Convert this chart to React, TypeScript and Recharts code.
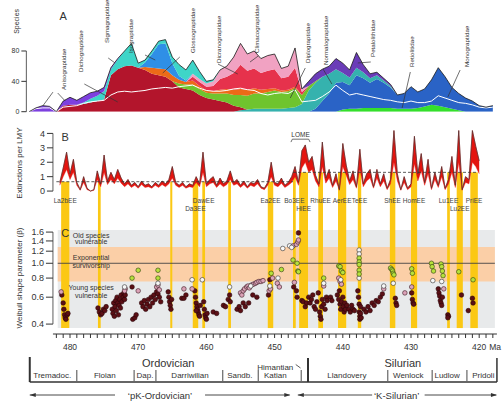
import React from 'react';
import {
  ComposedChart,
  Area,
  Line,
  Scatter,
  XAxis,
  YAxis,
  ReferenceArea,
  ReferenceLine,
  ReferenceDot,
} from 'recharts';

const FONT = 'Arial, "Liberation Sans", Helvetica, sans-serif';
const INK = '#333';
const YELLOW = '#fbc814';
const W = 504;

// ---------- A: standing species per family (one value per Myr) ----------
const speciesFirstMa = 486;
const speciesLastMa = 418;

const anisograptidae = [0, 5, 8, 7, 0, 6, 10, 6, 8, 8, 6, 5, 2, 1, 0];
const dichograptidae = [8, 9, 9, 10, 12, 14, 16, 48, 56, 60, 61, 58, 55, 50, 48, 46, 40, 32, 30, 28, 22, 18, 16, 14, 12, 8, 4, 0];
const sigmagraptidae = [2, 5, 7, 11, 8, 13, 20, 29, 6, 3, 4, 4, 5, 8, 15, 14, 18, 10, 3, 2, 0];
const isograptidae = [6, 18, 32, 34, 16, 5, 2, 0];
const glossograptidae = [4, 8, 9, 10, 8, 5, 3, 5, 4, 3, 3, 5, 6, 7, 8, 8, 7, 5, 4, 3, 2, 2, 2, 0];
const diplograptidae = [5, 6, 8, 8, 7, 8, 10, 12, 14, 16, 18, 20, 20, 22, 24, 22, 22, 25, 12, 6, 2, 0];
const dicranograptidae = [5, 5, 5, 7, 14, 16, 22, 32, 25, 26, 22, 24, 25, 16, 17, 25, 4, 0];
const climacograptidae = [4, 4, 4, 6, 12, 14, 21, 28, 22, 23, 19, 20, 20, 13, 14, 26, 4, 0];
const normalograptidae = [2, 3, 4, 4, 4, 4, 4, 5, 6, 10, 28, 34, 32, 26, 18, 12, 10, 10, 8, 6, 5, 3, 2, 0];
const petalolithidae = [6, 10, 10, 10, 14, 13, 10, 20, 10, 6, 4, 3, 2, 0];
const monograptidae = [4, 14, 24, 38, 36, 31, 44, 39, 33, 38, 33, 27, 18, 20, 29, 21, 23, 33, 50, 40, 28, 22, 18, 14, 8, 6, 8];
const retiolitidae = [3, 4, 4, 5, 5, 5, 5, 5, 4, 4, 4, 5, 7, 9, 8, 6, 4, 2, 0];

// white line, from 486 Ma
const meanLine = [0, 4, 5, 5, 0, 6, 7, 8, 11, 13, 14, 15, 22, 26, 27, 26, 27, 28, 30, 31, 32, 31, 33, 34, 35, 31, 28, 27, 27, 28, 30, 31, 29, 28, 24, 22, 24, 25, 24, 29, 13, 14, 15, 20, 26, 35, 28, 22, 24, 22, 20, 18, 16, 15, 13, 12, 14, 12, 12, 14, 21, 18, 15, 12, 11, 9, 6, 5, 6];

// stack order, bottom to top
const familyLayers = [
  { key: 'retiolitidae', start: 440, values: retiolitidae, color: '#34df2c' },
  { key: 'monograptidae', start: 444, values: monograptidae, color: '#2a63c6' },
  { key: 'normalograptidae', start: 455, values: normalograptidae, color: '#35b2ae' },
  { key: 'dichograptidae', start: 481, values: dichograptidae, color: '#b3152c' },
  { key: 'diplograptidae', start: 464, values: diplograptidae, color: '#6fc42e' },
  { key: 'glossograptidae', start: 469, values: glossograptidae, color: '#ec6a18' },
  { key: 'dicranograptidae', start: 462, values: dicranograptidae, color: '#e6324c' },
  { key: 'climacograptidae', start: 462, values: climacograptidae, color: '#f1a2c2' },
  { key: 'isograptidae', start: 469, values: isograptidae, color: '#2f8fe6' },
  { key: 'sigmagraptidae', start: 478, values: sigmagraptidae, color: '#3ed5c8' },
  { key: 'petalolithidae', start: 445, values: petalolithidae, color: '#6a3cb8' },
  { key: 'anisograptidae', start: 486, values: anisograptidae, color: '#7d40df' },
];

const speciesRows: Record<string, number>[] = [];
for (let ma = speciesFirstMa; ma >= speciesLastMa; ma--) {
  const row: Record<string, number> = { ma, mean: meanLine[speciesFirstMa - ma] };
  let total = 0;
  familyLayers.forEach((f) => {
    const i = f.start - ma;
    const v = i >= 0 && i < f.values.length ? f.values[i] : 0;
    row[f.key] = v;
    total += v;
  });
  row.total = total;
  speciesRows.push(row);
}

// ---------- B: extinctions per lineage-million-years (every 0.5 Myr) ----------
const rateFirstMa = 481.5;
const rateStep = 0.5;
const rate = [
  0.6, 1.6, 2.7, 1.2, 2.2, 0.6, 0.1, 1.0, 0.2, 0.0,
  0.1, 1.4, 0.5, 2.5, 0.7, 1.3, 0.8, 1.5, 0.9, 0.5,
  0.8, 0.4, 0.6, 0.3, 0.7, 0.4, 0.5, 0.3, 0.6, 0.4,
  0.7, 0.5, 0.8, 1.7, 0.6, 0.4, 0.6, 0.3, 0.5, 0.4,
  1.0, 0.5, 2.7, 0.5, 0.8, 1.0, 0.4, 0.9, 0.5, 0.7,
  1.4, 0.6, 0.8, 0.4, 0.7, 0.3, 0.6, 0.5, 0.8, 0.3,
  0.2, 0.6, 2.0, 0.6, 0.5, 0.9, 0.4, 0.6, 1.0, 1.7,
  0.6, 2.8, 3.2, 2.0, 2.4, 1.1, 0.5, 3.4, 0.9, 1.5,
  0.4, 1.2, 0.1, 3.3, 1.8, 0.7, 1.4, 0.3, 2.9, 0.5,
  1.2, 1.5, 0.3, 1.5, 0.5, 1.2, 0.2, 0.8, 4.2, 1.2,
  0.1, 1.0, 0.2, 0.5, 3.8, 1.2, 2.6, 0.6, 2.2, 0.2,
  1.3, 0.4, 1.7, 0.2, 0.8, 2.4, 0.4, 4.2, 0.1, 1.0,
  0.8, 4.2, 3.1, 2.1,
];
const rateLow = [
  0.4, 1.0, 1.5, 0.8, 1.3, 0.4, 0.05, 0.6, 0.1, 0.0,
  0.05, 0.8, 0.3, 1.3, 0.45, 0.8, 0.5, 0.9, 0.55, 0.3,
  0.5, 0.25, 0.4, 0.2, 0.45, 0.25, 0.3, 0.2, 0.4, 0.25,
  0.45, 0.3, 0.5, 0.9, 0.4, 0.25, 0.4, 0.2, 0.3, 0.25,
  0.6, 0.3, 1.3, 0.3, 0.5, 0.6, 0.25, 0.5, 0.3, 0.45,
  0.8, 0.4, 0.5, 0.25, 0.45, 0.2, 0.4, 0.3, 0.5, 0.2,
  0.1, 0.4, 1.0, 0.4, 0.3, 0.55, 0.25, 0.4, 0.6, 1.0,
  0.4, 1.6, 2.0, 1.3, 1.5, 0.7, 0.3, 1.7, 0.55, 0.9,
  0.25, 0.7, 0.05, 1.7, 1.1, 0.45, 0.8, 0.2, 1.5, 0.3,
  0.7, 0.9, 0.2, 0.9, 0.3, 0.7, 0.1, 0.5, 2.0, 0.7,
  0.05, 0.6, 0.1, 0.3, 1.9, 0.7, 1.4, 0.4, 1.2, 0.1,
  0.8, 0.25, 1.0, 0.1, 0.5, 1.3, 0.25, 2.0, 0.05, 0.6,
  0.5, 2.0, 1.7, 1.2,
];
const rateRows = rate.map((r, i) => ({ ma: rateFirstMa - i * rateStep, rate: r, low: rateLow[i] }));

const backgroundRate = [
  { from: 482, to: 447.3, value: 0.65 },
  { from: 447.3, to: 420.2, value: 1.3 },
];

// extinction events (yellow bars)
const eventNames = ['La2bEE', '', '', 'Da3EE', 'DawEE', '', 'Ea2EE', 'Bo3EE', 'HiEE', 'RhuEE', 'AerEE', 'TeEE', 'ShEE', 'HomEE', 'Lu1EE', 'Lu2EE', 'PriEE'];
const eventStart = [481.3, 475.9, 465.3, 462.0, 460.6, 456.8, 451.0, 447.3, 446.4, 443.6, 440.7, 437.8, 433.1, 430.0, 424.7, 423.3, 421.3];
const eventEnd = [480.1, 475.5, 465.0, 461.2, 460.2, 456.4, 450.2, 446.9, 445.1, 442.9, 439.5, 437.3, 432.3, 429.1, 424.3, 422.4, 420.2];
const eventSecondRow = ['Da3EE', 'HiEE', 'Lu2EE'];

// ---------- C: Weibull shape parameter ----------
type Pt = [number, number];
const darkBeta: Pt[] = [
  [481.2, 0.62], [481.0, 0.55], [480.9, 0.5], [480.8, 0.46], [480.7, 0.44], [480.6, 0.43], [480.4, 0.46], [480.3, 0.47],
  [475.9, 0.51], [475.7, 0.48], [475.5, 0.46], [475.3, 0.47], [475.1, 0.5], [474.9, 0.49], [474.7, 0.52],
  [473.8, 0.5], [473.7, 0.47], [473.6, 0.55], [473.5, 0.45], [473.4, 0.52], [473.3, 0.57], [473.2, 0.49], [473.1, 0.6], [473.0, 0.55], [472.9, 0.46], [472.8, 0.53], [472.7, 0.58], [472.6, 0.51], [472.5, 0.62], [472.4, 0.56], [472.2, 0.6], [472.1, 0.64], [472.0, 0.58], [471.9, 0.62],
  [470.9, 0.7], [470.8, 0.43], [470.5, 0.44], [470.3, 0.46],
  [469.5, 0.55], [469.3, 0.52], [469.1, 0.57], [468.9, 0.5], [468.7, 0.54], [468.5, 0.58], [468.3, 0.52], [468.1, 0.6], [467.9, 0.55], [467.7, 0.62], [467.5, 0.58], [467.3, 0.65], [467.1, 0.63], [466.9, 0.6], [466.7, 0.56],
  [465.6, 0.65], [465.5, 0.6], [465.4, 0.56], [465.3, 0.53], [465.2, 0.5], [465.1, 0.58],
  [463.6, 0.59], [463.3, 0.59], [463.0, 0.62],
  [461.7, 0.66], [461.6, 0.6], [461.5, 0.55], [461.4, 0.52], [461.3, 0.5], [461.2, 0.48], [461.1, 0.46], [461.0, 0.45], [460.9, 0.53], [461.5, 0.49],
  [460.4, 0.56], [460.3, 0.5], [460.2, 0.46], [460.1, 0.44], [460.0, 0.43], [459.9, 0.47],
  [459.0, 0.48], [458.5, 0.47],
  [457.5, 0.53], [457.2, 0.52], [456.8, 0.58], [456.6, 0.62], [456.5, 0.56],
  [455.5, 0.5], [455.2, 0.52], [455.0, 0.49], [454.6, 0.55], [454.3, 0.52], [453.8, 0.55], [453.2, 0.62], [452.6, 0.6],
  [450.9, 0.62], [450.7, 0.78],
  [447.2, 0.7], [446.8, 0.66], [446.7, 0.6], [446.5, 1.58],
  [446.0, 0.57], [445.8, 0.56], [445.5, 0.52], [445.3, 0.55],
  [445.0, 0.6], [444.8, 0.55], [444.6, 0.58], [444.4, 0.62], [444.2, 0.52], [444.0, 0.5], [443.8, 0.56], [443.6, 0.64], [443.4, 0.48], [443.3, 0.45], [443.2, 0.43], [443.1, 0.52], [443.0, 0.58], [442.8, 0.54], [442.6, 0.5], [442.4, 0.6], [442.3, 0.57],
  [441.8, 0.6], [441.6, 0.57],
  [440.8, 0.62], [440.6, 0.58], [440.5, 0.66], [440.4, 0.54], [440.3, 0.5], [440.2, 0.56], [440.0, 0.6], [439.9, 0.52], [439.8, 0.48], [439.7, 0.55], [439.6, 0.5], [439.4, 0.53],
  [439.1, 0.5], [438.9, 0.48], [438.7, 0.53], [438.5, 0.5], [438.3, 0.49],
  [437.8, 0.66], [437.7, 0.6], [437.6, 0.54], [437.6, 0.48], [437.5, 0.45], [437.5, 0.43], [437.4, 0.47], [437.4, 0.52], [437.3, 0.44],
  [436.9, 0.5], [436.6, 0.48], [436.3, 0.52], [436.0, 0.49], [435.7, 0.55], [435.4, 0.53], [435.1, 0.57], [434.8, 0.56], [434.5, 0.6], [434.2, 0.63],
  [432.3, 0.59], [432.2, 0.55], [432.1, 0.53],
  [429.9, 0.64], [429.8, 0.58], [429.7, 0.55], [429.6, 0.54],
  [426.0, 0.68], [425.9, 0.64], [425.8, 0.61], [425.7, 0.57], [425.6, 0.55], [425.5, 0.53], [425.4, 0.6],
  [424.6, 0.46], [424.5, 0.45], [424.6, 0.44],
  [422.6, 0.62], [421.6, 0.49], [421.0, 0.59], [420.9, 0.55],
];
const pinkBeta: Pt[] = [
  [481.3, 0.65], [471.9, 0.68], [472.0, 0.66], [470.0, 0.66], [467.3, 0.7], [467.1, 0.72], [466.9, 0.67], [463.3, 0.68], [462.1, 0.68],
  [455.0, 0.64], [454.8, 0.62], [454.6, 0.66], [454.4, 0.68], [454.1, 0.7], [453.9, 0.71], [453.7, 0.69], [453.4, 0.72], [453.1, 0.73],
  [452.8, 0.74], [452.6, 0.75], [452.3, 0.76], [452.0, 0.76], [451.7, 0.77], [450.8, 0.66], [450.6, 0.68], [450.3, 0.8], [449.6, 0.74],
  [449.3, 0.7], [447.3, 1.3], [447.1, 0.75], [446.8, 1.33], [446.6, 1.38], [446.5, 1.42], [442.8, 0.71], [440.6, 0.8], [440.4, 0.76],
  [440.2, 0.73], [434.0, 0.68], [430.9, 0.64], [429.9, 0.7], [425.2, 0.68],
];
const whiteBeta: Pt[] = [
  [472.0, 0.7], [467.1, 0.74], [462.1, 0.78], [460.6, 0.78], [456.6, 0.7], [453.5, 0.71], [450.7, 0.71], [449.5, 0.8], [448.8, 1.25],
  [447.8, 1.3], [447.5, 1.27], [442.8, 0.74], [440.3, 0.78], [437.6, 1.22], [437.6, 1.15], [437.6, 0.8], [434.0, 0.71], [432.6, 0.74],
  [426.8, 0.77], [425.5, 0.76],
];
const greenBeta: Pt[] = [
  [470.9, 0.8], [470.0, 0.9], [467.1, 0.9], [467.1, 0.8], [450.5, 0.86], [449.0, 0.91], [447.3, 1.05], [446.7, 1.0], [446.6, 0.89],
  [446.5, 0.88], [442.8, 0.8], [440.6, 0.96], [440.4, 0.95], [440.2, 0.89], [440.0, 0.87], [437.6, 1.08], [437.6, 1.02], [437.6, 0.98],
  [437.6, 0.9], [437.6, 0.85], [433.0, 0.93], [432.8, 0.91], [432.7, 0.89], [432.6, 0.86], [432.5, 0.84], [429.9, 0.92], [429.8, 0.86],
  [427.0, 1.0], [426.9, 0.95], [426.7, 0.89], [425.6, 0.99], [425.5, 0.95], [425.4, 0.89], [425.3, 0.83], [423.0, 0.88], [420.9, 0.78],
];
const betaTicks = [0.4, 0.6, 0.8, 1.0, 1.2, 1.4, 1.6];

// ---------- time axis and time scale ----------
const maTicks: number[] = [];
for (let m = 482; m >= 418; m--) maTicks.push(m);
const labelledMa = [480, 470, 460, 450, 440, 430, 420];

const periodNames = ['Ordovician', 'Silurian'];
const periodMid = [465.6, 431.2];
const periodBounds = [485.9, 445.1, 417.4];
const stageNames = ['Tremadoc.', 'Floian', 'Dap.', 'Darriwilian', 'Sandb.', 'Katian', 'Llandovery', 'Wenlock', 'Ludlow', 'Pridoli'];
const stageMid = [482.6, 474.9, 469.0, 462.4, 455.1, 449.9, 439.4, 430.4, 424.7, 419.4];
const stageBounds = [479.0, 470.6, 467.4, 457.6, 452.4, 446.1, 433.4, 426.9, 421.8];

// ---------- layout helpers ----------
const maToPx = (ma: number) => 70 + (480 - ma) * 6.82;
const A_DOMAIN: [number, number] = [417, 486.4];
const BC_DOMAIN: [number, number] = [417.4, 482.5];

type NoteOpts = { anchor?: 'start' | 'middle' | 'end'; rotate?: boolean; color?: string };
const note = (key: string, x: number, y: number, text: string, size: number, o: NoteOpts = {}) => (
  <ReferenceDot
    key={key}
    x={x}
    y={y}
    r={0}
    ifOverflow="visible"
    shape={(p: any) => (
      <text
        x={p.cx}
        y={p.cy}
        fontSize={size}
        fontFamily={FONT}
        fill={o.color ?? INK}
        textAnchor={o.anchor ?? 'middle'}
        dominantBaseline="central"
        transform={o.rotate ? `rotate(-90 ${p.cx} ${p.cy})` : undefined}
      >
        {text}
      </text>
    )}
  />
);

const arrowHead = (key: string, x: number, y: number, dir: 1 | -1) => (
  <ReferenceDot
    key={key}
    x={x}
    y={y}
    r={0}
    ifOverflow="visible"
    shape={(p: any) => (
      <polygon
        points={`${p.cx},${p.cy} ${p.cx - dir * 6},${p.cy - 2} ${p.cx - dir * 6},${p.cy + 2}`}
        fill={INK}
      />
    )}
  />
);

const seg = (key: string, x1: number, y1: number, x2: number, y2: number, width = 0.8, dash?: string) => (
  <ReferenceLine
    key={key}
    segment={[{ x: x1, y: y1 }, { x: x2, y: y2 }]}
    stroke={INK}
    strokeWidth={width}
    strokeDasharray={dash}
    ifOverflow="visible"
  />
);

const familyLabels = [
  { name: 'Anisograptidae', ma: 481.0, y: 28.6, leaders: [[482.5, 25.8, 484.0, 7.5], [481.8, 24.6, 480.7, 14.1]] },
  { name: 'Dichograptidae', ma: 478.5, y: 52.3, leaders: [[477.9, 36.5, 473.0, 12.8]] },
  { name: 'Sigmagraptidae', ma: 474.6, y: 90.5, leaders: [[474.4, 70.8, 473.4, 64.2]] },
  { name: 'Isograptidae', ma: 471.2, y: 77.3, leaders: [[469.0, 74.7, 467.5, 68.1]] },
  { name: 'Glossograptidae', ma: 462.0, y: 77.3, leaders: [[463.9, 72.1, 466.4, 51.0]] },
  { name: 'Dicranograptidae', ma: 458.2, y: 64.2, leaders: [[458.3, 62.8, 455.4, 49.7]] },
  { name: 'Climacograptidae', ma: 452.6, y: 77.3, leaders: [[452.4, 73.4, 453.6, 65.5]] },
  { name: 'Diplograptidae', ma: 445.2, y: 64.2, leaders: [[445.5, 57.6, 447.7, 18.1]] },
  { name: 'Normalograptidae', ma: 442.6, y: 61.5, leaders: [[442.9, 56.3, 441.6, 36.5]] },
  { name: 'Petalolithidae', ma: 435.6, y: 72.1, leaders: [[435.9, 65.5, 437.8, 64.2]] },
  { name: 'Retiolitidae', ma: 429.9, y: 58.9, leaders: [[430.1, 52.3, 431.3, 4.9]] },
  { name: 'Monograptidae', ma: 421.8, y: 58.9, leaders: [[422.8, 54.9, 424.6, 19.4]] },
];

const dotShape = (fill: string, stroke: string) => (p: any) => (
  <circle cx={p.cx} cy={p.cy} r={2.3} fill={fill} stroke={stroke} strokeWidth={0.6} />
);

const toPoints = (pts: Pt[]) => pts.map(([ma, beta]) => ({ ma, beta }));

const stageRows = stageMid.map((ma) => ({ ma, row: 375 }));

const MaTick = (props: any) => {
  const { x, y, payload } = props;
  if (!labelledMa.includes(payload.value)) return <g />;
  return (
    <g>
      <text x={x} y={y + 7} fontSize={8.5} fontFamily={FONT} fill={INK} textAnchor="middle" dominantBaseline="central">
        {payload.value}
      </text>
      {payload.value === 420 && (
        <text x={x + 10} y={y + 7} fontSize={8.5} fontFamily={FONT} fill={INK} textAnchor="start" dominantBaseline="central">
          Ma
        </text>
      )}
    </g>
  );
};

const tickStyle = { fontSize: 9, fill: INK, fontFamily: FONT };
const C_TOP = 218; // svg top, plot starts 12 px lower at 230

export default function App() {
  const levelFor = (start: number) =>
    (backgroundRate.find((b) => start <= b.from && start > b.to) ?? backgroundRate[0]).value;

  return (
    <div style={{ position: 'absolute', left: 0, top: 0, width: W, height: 401, background: '#fff', overflow: 'hidden' }}>
      {/* Panel A */}
      <div style={{ position: 'absolute', left: 0, top: 0 }}>
        <ComposedChart width={W} height={116} data={speciesRows} margin={{ top: 0, right: W - maToPx(417), bottom: 116 - 111.7, left: 0 }}>
          <XAxis type="number" dataKey="ma" domain={A_DOMAIN} reversed hide allowDataOverflow />
          <YAxis
            type="number"
            domain={[0, 147.2]}
            ticks={[0, 40, 80]}
            interval={0}
            width={maToPx(486.4)}
            axisLine={false}
            tickSize={5}
            tickLine={{ stroke: INK }}
            tick={{ ...tickStyle, fontSize: 7 }}
            allowDataOverflow
          />
          {familyLayers.map((f) => (
            <Area
              key={f.key}
              type="linear"
              dataKey={f.key}
              stackId="species"
              fill={f.color}
              fillOpacity={1}
              stroke="none"
              isAnimationActive={false}
            />
          ))}
          <Line type="linear" dataKey="mean" stroke="#ffffff" strokeWidth={1} dot={false} isAnimationActive={false} />
          <Line type="linear" dataKey="total" stroke="#1b1b1b" strokeWidth={0.8} dot={false} isAnimationActive={false} />
          {seg('a-axis', 486.4, 0, 486.4, 80, 0.8)}
          {familyLabels.map((f) => note(`fl-${f.name}`, f.ma, f.y, f.name, 6.2, { anchor: 'start', rotate: true }))}
          {familyLabels.flatMap((f) =>
            f.leaders.map((l, i) => seg(`ld-${f.name}-${i}`, l[0], l[1], l[2], l[3], 0.7)),
          )}
          {note('a-letter', 481.0, 126, 'A', 11)}
          {note('a-ylabel', 487.9, 119, 'Species', 7, { rotate: true })}
        </ComposedChart>
      </div>

      {/* Panel B */}
      <div style={{ position: 'absolute', left: 0, top: 119 }}>
        <ComposedChart width={W} height={111} data={rateRows} margin={{ top: 0, right: W - maToPx(417.4), bottom: 0, left: 0 }}>
          <XAxis type="number" dataKey="ma" domain={BC_DOMAIN} reversed hide allowDataOverflow />
          <YAxis
            type="number"
            domain={[-2.7, 5]}
            ticks={[0, 1, 2, 3, 4]}
            interval={0}
            width={maToPx(482.5)}
            axisLine={false}
            tickSize={6}
            tickLine={{ stroke: INK }}
            tick={tickStyle}
            allowDataOverflow
          />
          {eventStart.map((s, i) => (
            <ReferenceArea
              key={`yb-${i}`}
              x1={s}
              x2={eventEnd[i]}
              y1={-2.7}
              y2={levelFor(s)}
              fill={YELLOW}
              fillOpacity={1}
              stroke="none"
              zIndex={-50}
            />
          ))}
          <Area
            type="linear"
            dataKey={(d: any) => [d.low, d.rate]}
            fill="#e3140f"
            fillOpacity={1}
            stroke="#e3140f"
            strokeWidth={0.4}
            isAnimationActive={false}
          />
          <Line type="linear" dataKey="rate" stroke="#4a3030" strokeWidth={0.7} dot={false} isAnimationActive={false} />
          {backgroundRate.map((b, i) => seg(`bg-${i}`, b.from, b.value, b.to, b.value, 0.8, '3 2'))}
          {seg('b-axis', 482.5, 0, 482.5, 4, 0.8)}
          {seg('lome', 447.4, 3.6, 445.0, 3.6, 0.7)}
          {seg('lome-l', 447.4, 3.6, 447.6, 3.4, 0.7)}
          {seg('lome-r', 445.0, 3.6, 444.8, 3.4, 0.7)}
          {note('lome-t', 446.2, 3.95, 'LOME', 6.5)}
          {note('b-letter', 480.7, 3.75, 'B', 11)}
          {note('b-ylabel', 487.4, 1.94, 'Extinctions per LMY', 8, { rotate: true })}
          {eventNames.map((n, i) =>
            n
              ? note(`ev-${n}`, (eventStart[i] + eventEnd[i]) / 2, eventSecondRow.includes(n) ? -1.18 : -0.62, n, 6.5, {
                  color: '#444',
                })
              : null,
          )}
        </ComposedChart>
      </div>

      {/* Panel C with the time axis */}
      <div style={{ position: 'absolute', left: 0, top: C_TOP }}>
        <ComposedChart width={W} height={140} margin={{ top: 230 - C_TOP, right: W - maToPx(417.4), bottom: 0, left: 0 }}>
          <XAxis
            type="number"
            dataKey="ma"
            domain={BC_DOMAIN}
            reversed
            ticks={maTicks}
            interval={0}
            tickSize={4}
            height={24}
            axisLine={{ stroke: INK }}
            tickLine={{ stroke: INK }}
            tick={<MaTick />}
            allowDataOverflow
          />
          <YAxis
            type="number"
            dataKey="beta"
            scale="log"
            domain={[0.3445, 1.651]}
            ticks={betaTicks}
            interval={0}
            width={maToPx(482.5)}
            axisLine={false}
            tickSize={7}
            tickLine={{ stroke: INK }}
            tick={tickStyle}
            tickFormatter={(v: number) => v.toFixed(1)}
            allowDataOverflow
          />
          <ReferenceArea x1={481.8} x2={417.7} y1={0.3767} y2={1.651} fill="#e8eaeb" fillOpacity={1} stroke="none" zIndex={-90} />
          <ReferenceArea x1={481.8} x2={417.7} y1={0.76} y2={1.28} fill="#fbcfa7" fillOpacity={1} stroke="none" zIndex={-80} />
          {eventStart.map((s, i) => (
            <ReferenceArea
              key={`yc-${i}`}
              x1={s}
              x2={eventEnd[i]}
              y1={0.3767}
              y2={1.651}
              fill={YELLOW}
              fillOpacity={1}
              stroke="none"
              zIndex={-70}
            />
          ))}
          <ReferenceLine segment={[{ x: 481.8, y: 1 }, { x: 417.7, y: 1 }]} stroke="#444" strokeWidth={0.9} zIndex={-60} />
          {seg('c-axis', 482.5, 0.4, 482.5, 1.6, 0.8)}
          {note('c-letter', 480.7, 1.58, 'C', 11)}
          {note('c-old1', 476.9, 1.53, 'Old species', 7)}
          {note('c-old2', 476.9, 1.378, 'vulnerable', 7)}
          {note('c-exp1', 476.9, 1.099, 'Exponential', 7)}
          {note('c-exp2', 476.9, 0.96, 'survivorship', 7)}
          {note('c-young1', 476.9, 0.689, 'Young species', 7)}
          {note('c-young2', 476.9, 0.611, 'vulnerable', 7)}
          {note('c-ylabel', 487.4, 0.801, 'Weibull shape parameter (\u03b2)', 8, { rotate: true })}
          <Scatter data={toPoints(darkBeta)} shape={dotShape('#5b0f15', '#2a0508')} isAnimationActive={false} />
          <Scatter data={toPoints(pinkBeta)} shape={dotShape('#dba3b8', '#3a1a22')} isAnimationActive={false} />
          <Scatter data={toPoints(whiteBeta)} shape={dotShape('#f7f7f7', '#333333')} isAnimationActive={false} />
          <Scatter data={toPoints(greenBeta)} shape={dotShape('#b6e13c', '#2e3d10')} isAnimationActive={false} />
        </ComposedChart>
      </div>

      {/* Geological time scale */}
      <div style={{ position: 'absolute', left: 0, top: 340 }}>
        <ComposedChart width={W} height={61} data={stageRows} margin={{ top: 0, right: W - maToPx(417), bottom: 0, left: maToPx(486.4) }}>
          <XAxis type="number" dataKey="ma" domain={A_DOMAIN} reversed hide allowDataOverflow />
          <YAxis type="number" dataKey="row" domain={[340, 401]} reversed hide allowDataOverflow />
          <Line dataKey="row" stroke="none" dot={false} activeDot={false} isAnimationActive={false} />
          {periodBounds.map((b, i) => seg(`pb-${i}`, b, i === 0 ? 357 : 358, b, 382, i === 2 ? 1.5 : 2))}
          {seg('ts-base', periodBounds[0], 382, periodBounds[2], 382, 1.5)}
          {stageBounds.map((b, i) => seg(`sb-${i}`, b, 370, b, 381, 0.9))}
          {periodNames.map((n, i) => note(`pn-${n}`, periodMid[i], 363, n, 11))}
          {stageNames.map((n, i) => note(`sn-${n}`, stageMid[i], 375.5, n, 8))}
          {note('himantian', 449.9, 367, 'Himantian', 8)}
          {seg('him-arrow', 446.9, 364.5, 446.2, 368, 0.8)}
          {seg('pk-l', 485.9, 395, 473.4, 395, 0.9)}
          {seg('pk-r', 460.2, 395, 447.8, 395, 0.9)}
          {arrowHead('pk-la', 485.9, 395, -1)}
          {arrowHead('pk-ra', 447.7, 395, 1)}
          {note('pk-t', 466.8, 395, '\u2018pK-Ordovician\u2019', 9.5)}
          {seg('ks-l', 446.6, 395, 435.7, 395, 0.9)}
          {seg('ks-r', 428.0, 395, 417.5, 395, 0.9)}
          {arrowHead('ks-la', 446.6, 395, -1)}
          {arrowHead('ks-ra', 417.4, 395, 1)}
          {note('ks-t', 432.1, 395, '\u2018K-Silurian\u2019', 9.5)}
        </ComposedChart>
      </div>
    </div>
  );
}
